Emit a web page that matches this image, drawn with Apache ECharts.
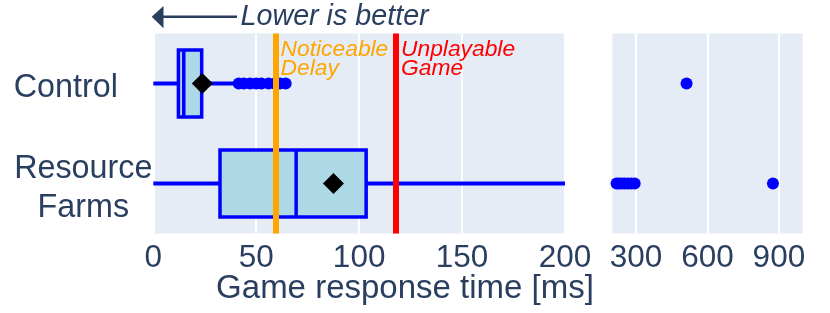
<!DOCTYPE html>
<html>
<head>
<meta charset="utf-8">
<script src="https://cdn.jsdelivr.net/npm/echarts@6/dist/echarts.min.js"></script>
<style>
html,body{margin:0;padding:0;background:#fff;}
#main{width:830px;height:313px;}
</style>
</head>
<body>
<div id="main"></div>
<script>
// ---- data ----
const categories = ['Control', 'Resource Farms'];
const boxMin = [0, 0];
const boxQ1 = [12.2, 32.4];
const boxMedian = [14.8, 69.4];
const boxQ3 = [23.5, 103.4];
const boxMax = [40, 210];
const means = [23.8, 87.5];
const controlOutliers = [41.5, 44, 47, 50, 52.5, 56, 59, 61.5, 64.3, 512];
const farmOutliers = [218, 228, 240, 252, 265, 280, 294, 875];
const thresholdValues = [59.5, 118];
const thresholdLabels = ['Noticeable\nDelay', 'Unplayable\nGame'];
const thresholdColors = ['#FFA500', '#FF0000'];
const leftAxisRange = [0, 200];
const leftTickInterval = 50;
const rightAxisRange = [200, 1000];
const rightTicks = [300, 600, 900];
const xTitle = 'Game response time [ms]';
const topNote = 'Lower is better';

// ---- build ----
const FONT = '"Liberation Sans", Arial, sans-serif';
const TXT = '#2a3f5f';
const BLUE = '#0000FF';

const boxData = categories.map((c, i) => [i, boxMin[i], boxQ1[i], boxMedian[i], boxQ3[i], boxMax[i]]);

function renderBox(params, api) {
  const cat = api.value(0);
  const vals = [api.value(1), api.value(2), api.value(3), api.value(4), api.value(5)];
  const cs = params.coordSys;
  const x0 = cs.x, x1 = cs.x + cs.width;
  const yc = api.coord([0, cat])[1];
  const half = api.size([0, 1])[1] * 0.335;
  const px = vals.map(v => api.coord([v, cat])[0]);
  const clamp = x => Math.max(x0, Math.min(x1, x));
  const children = [];
  [[px[0], px[1]], [px[3], px[4]]].forEach(([a, b]) => {
    const ca = clamp(a), cb = clamp(b);
    if (cb > ca) children.push({type: 'line', shape: {x1: ca, y1: yc, x2: cb, y2: yc},
      style: {stroke: BLUE, lineWidth: 4}});
  });
  if (px[3] > x0 && px[1] < x1) {
    children.push({type: 'rect', shape: {x: px[1], y: yc - half, width: px[3] - px[1], height: 2 * half},
      style: {fill: '#ADD8E6', stroke: BLUE, lineWidth: 3.5}});
    children.push({type: 'line', shape: {x1: px[2], y1: yc - half, x2: px[2], y2: yc + half},
      style: {stroke: BLUE, lineWidth: 3.5}});
  }
  return {type: 'group', children};
}

const outlierData = [];
controlOutliers.forEach(v => outlierData.push([v, categories[0]]));
farmOutliers.forEach(v => outlierData.push([v, categories[1]]));

function catLabel(v) {
  if (v === 'Control') return '{c|Control}';
  const parts = v.split(' ');
  return '{r1|' + parts[0] + '}\n{r2|' + parts[1] + '}';
}

const chart = echarts.init(document.getElementById('main'), null, {renderer: 'canvas'});
const gridCommon = {show: true, backgroundColor: '#E5ECF6', borderWidth: 0, containLabel: false, outerBoundsMode: 'none'};
const option = {
  animation: false,
  backgroundColor: '#ffffff',
  textStyle: {fontFamily: FONT},
  grid: [
    Object.assign({left: 153.3, width: 411.7, top: 33.5, height: 200}, gridCommon),
    Object.assign({left: 612.3, width: 190.4, top: 33.5, height: 200}, gridCommon)
  ],
  xAxis: [
    {type: 'value', gridIndex: 0, min: leftAxisRange[0], max: leftAxisRange[1], interval: leftTickInterval,
      axisLine: {show: false}, axisTick: {show: false},
      axisLabel: {fontSize: 31.5, color: TXT, fontFamily: FONT, margin: 9},
      splitLine: {show: true, lineStyle: {color: '#ffffff', width: 2}}},
    {type: 'value', gridIndex: 1, min: rightAxisRange[0], max: rightAxisRange[1],
      axisLine: {show: false}, axisTick: {show: false, customValues: rightTicks},
      axisLabel: {fontSize: 31.5, color: TXT, fontFamily: FONT, margin: 9, customValues: rightTicks},
      splitLine: {show: true, lineStyle: {color: '#ffffff', width: 2}}}
  ],
  yAxis: [
    {type: 'category', gridIndex: 0, data: categories, inverse: true,
      axisLine: {show: false}, axisTick: {show: false}, splitLine: {show: false},
      axisLabel: {align: 'center', margin: 70, formatter: catLabel,
        rich: {
          c: {fontSize: 32.3, color: TXT, fontFamily: FONT, lineHeight: 40, padding: [9, 35, 0, 0]},
          r1: {fontSize: 32.3, color: TXT, fontFamily: FONT, lineHeight: 45, padding: [17, 0, 0, 0]},
          r2: {fontSize: 32.3, color: TXT, fontFamily: FONT, lineHeight: 45, padding: [4, 0, 0, 0]}
        }}},
    {type: 'category', gridIndex: 1, data: categories, inverse: true,
      axisLine: {show: false}, axisTick: {show: false}, axisLabel: {show: false}, splitLine: {show: false}}
  ],
  series: [
    {type: 'custom', xAxisIndex: 0, yAxisIndex: 0, renderItem: renderBox, data: boxData,
      encode: {x: [1, 2, 3, 4, 5], y: 0}, z: 2, silent: true},
    {type: 'custom', xAxisIndex: 1, yAxisIndex: 1, renderItem: renderBox, data: boxData,
      encode: {x: [1, 2, 3, 4, 5], y: 0}, z: 2, silent: true},
    {type: 'scatter', xAxisIndex: 0, yAxisIndex: 0, data: outlierData.filter(d => d[0] <= leftAxisRange[1]),
      symbol: 'circle', symbolSize: 12, itemStyle: {color: BLUE, opacity: 1}, z: 3, silent: true},
    {type: 'scatter', xAxisIndex: 1, yAxisIndex: 1, data: outlierData.filter(d => d[0] > rightAxisRange[0]),
      symbol: 'circle', symbolSize: 12, itemStyle: {color: BLUE, opacity: 1}, z: 3, silent: true},
    {type: 'line', xAxisIndex: 0, yAxisIndex: 0, data: [], z: 4, silent: true,
      markLine: {silent: true, symbol: ['none', 'none'], label: {show: false},
        data: thresholdValues.map((v, i) => ({xAxis: v, lineStyle: {color: thresholdColors[i], width: 6, type: 'solid'}}))}},
    {type: 'scatter', xAxisIndex: 0, yAxisIndex: 0, data: means.map((m, i) => [m, categories[i]]),
      symbol: 'diamond', symbolSize: 21, itemStyle: {color: '#000000', opacity: 1}, z: 5, silent: true}
  ]
};
chart.setOption(option);

const gridTop = 33.5;
const graphics = [];
thresholdValues.forEach((v, i) => {
  const x = chart.convertToPixel({xAxisIndex: 0}, v);
  graphics.push({type: 'text', left: x + 4.8, top: gridTop + 5, silent: true, z: 10,
    style: {text: thresholdLabels[i], fill: thresholdColors[i], fontSize: 22.8, fontStyle: 'italic',
      fontFamily: FONT, lineHeight: 18.3}});
});
const leftEdge = chart.convertToPixel({xAxisIndex: 0}, leftAxisRange[0]);
graphics.push({type: 'polygon', silent: true,
  shape: {points: [[leftEdge - 1.6, 16.7], [leftEdge + 10.2, 6], [leftEdge + 10.2, 28.3]]},
  style: {fill: TXT}});
graphics.push({type: 'line', silent: true,
  shape: {x1: leftEdge + 9, y1: 16.7, x2: 237, y2: 16.7}, style: {stroke: TXT, lineWidth: 2.5}});
graphics.push({type: 'text', silent: true, x: 240.5, y: 17,
  style: {text: topNote, fill: TXT, fontSize: 28.7, fontStyle: 'italic', fontFamily: FONT,
    textAlign: 'left', textVerticalAlign: 'middle'}});
graphics.push({type: 'text', silent: true, x: 405, y: 288.5,
  style: {text: xTitle, fill: TXT, fontSize: 33, fontFamily: FONT,
    textAlign: 'center', textVerticalAlign: 'middle'}});
chart.setOption({graphic: graphics});
</script>
</body>
</html>
